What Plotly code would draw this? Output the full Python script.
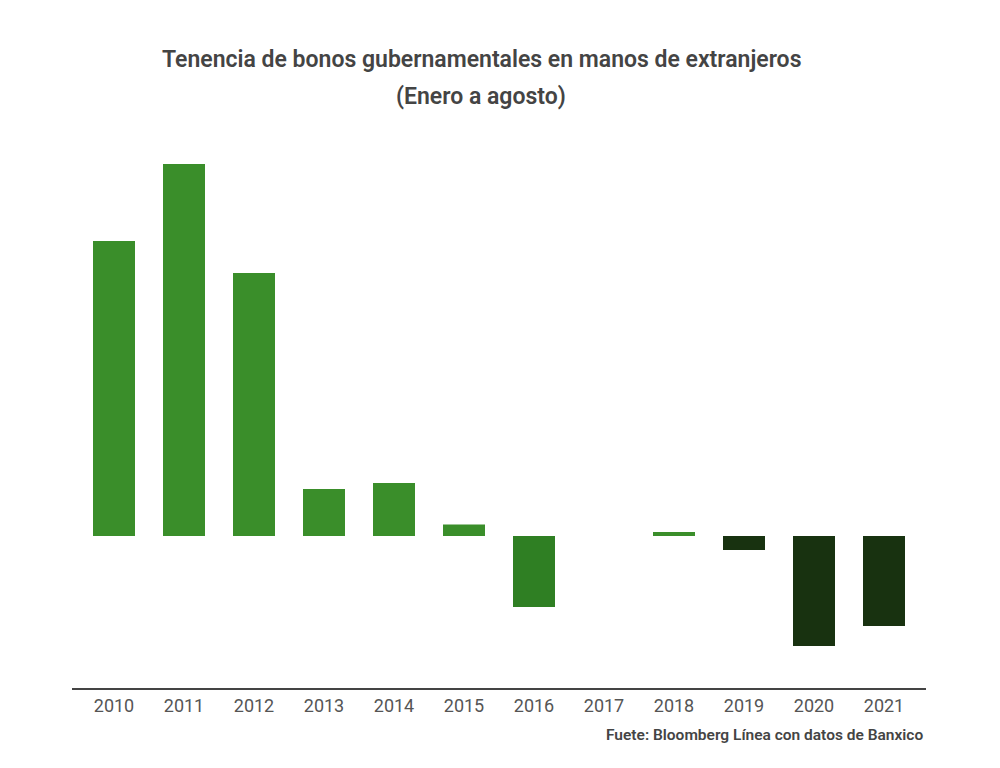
import plotly.graph_objects as go

# Años y valores (unidades relativas)
years = ["2010", "2011", "2012", "2013", "2014", "2015",
         "2016", "2017", "2018", "2019", "2020", "2021"]
holdings = [295, 372, 263, 47, 53, 11.5, -71, 0, 4, -14, -110, -90]
bar_colors = ["#3a8e2a", "#3a8e2a", "#3a8e2a", "#3a8e2a", "#3a8e2a", "#3a8e2a",
              "#2f7f23", "#3a8e2a", "#3a8e2a", "#183210", "#183210", "#183210"]

title_line1 = "Tenencia de bonos gubernamentales en manos de extranjeros"
title_line2 = "(Enero a agosto)"
source_text = "Fuete: Bloomberg Línea con datos de Banxico"


def build_chart():
    fig = go.Figure(
        go.Bar(x=years, y=holdings, marker=dict(color=bar_colors, line=dict(width=0)))
    )

    title_font = dict(family="Roboto", size=23, color="#444444", weight=600)

    # the page body has an 8px margin, so the figure is a bit smaller than the window
    fig.update_layout(
        width=984,
        height=752,
        paper_bgcolor="white",
        plot_bgcolor="white",
        margin=dict(l=64, r=66, t=132, b=72),
        bargap=0.4,
        showlegend=False,
        font=dict(family="Roboto", color="#555555"),
        annotations=[
            dict(text=title_line1, xref="paper", yref="paper", x=0.4795, y=1.146,
                 xanchor="center", yanchor="middle", showarrow=False, font=title_font),
            dict(text=title_line2, xref="paper", yref="paper", x=0.4795, y=1.080,
                 xanchor="center", yanchor="middle", showarrow=False, font=title_font),
            dict(
                text=source_text,
                xref="paper", yref="paper",
                x=0.9985, y=-0.086,
                xanchor="right", yanchor="middle",
                showarrow=False,
                font=dict(family="Roboto", size=15.5, color="#444444", weight=600),
            ),
        ],
    )

    fig.update_xaxes(
        range=[-0.6, 11.6],
        showline=True,
        linecolor="#444444",
        linewidth=2,
        ticks="",
        showgrid=False,
        tickfont=dict(size=18, color="#555555"),
    )
    fig.update_yaxes(
        range=[-152, 396],
        visible=False,
        showgrid=False,
        zeroline=False,
    )

    fig.write_html("out.html")


if __name__ == "__main__":
    build_chart()
